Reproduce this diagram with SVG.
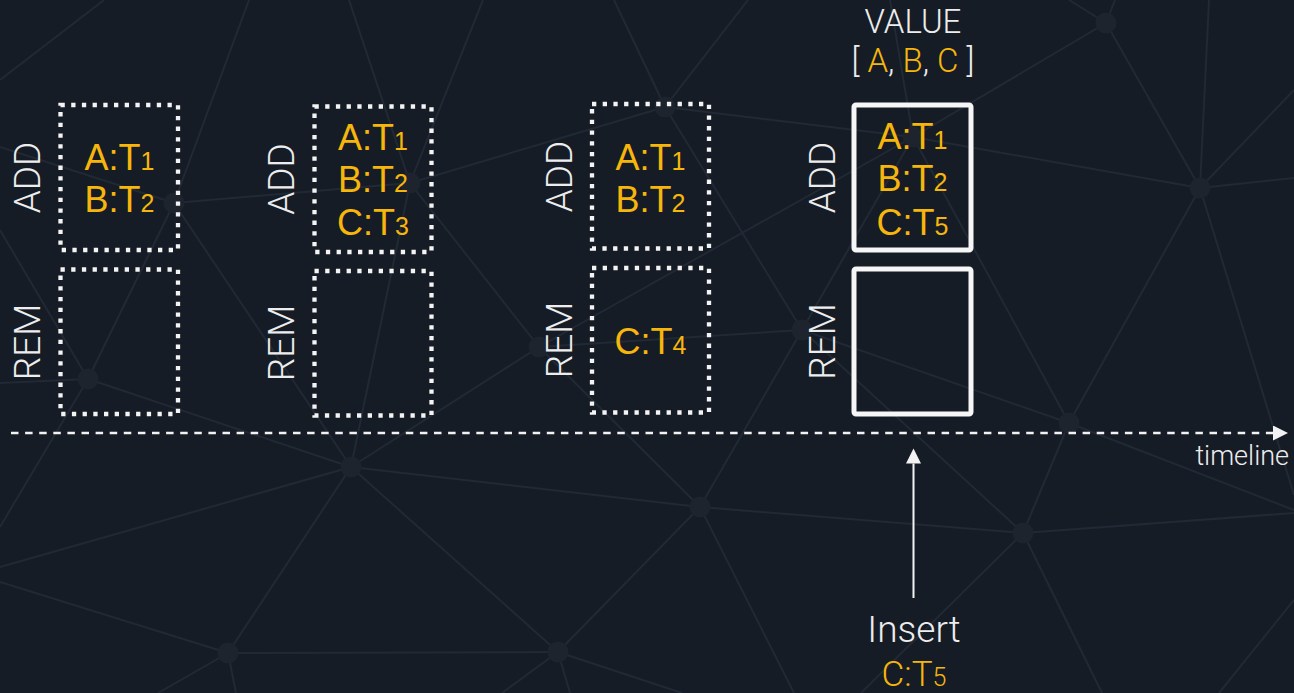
<svg xmlns="http://www.w3.org/2000/svg" width="1294" height="693" viewBox="0 0 1294 693">
  <style>
    .net line { stroke: #212934; stroke-width: 2; }
    .net circle { fill: #1d242e; }
    .dotbox { fill: none; stroke: #f4f4f4; stroke-width: 4.3; stroke-dasharray: 4.3 6.4; }
    .solidbox { fill: none; stroke: #f6f6f6; stroke-width: 5; }
    .entry { font-family: "Liberation Sans", Arial, sans-serif; font-size: 36px; fill: #f6b60b; text-anchor: middle; }
    .entry tspan.sub { font-size: 25px; }
    .side { font-family: Roboto, "Liberation Sans", sans-serif; font-weight: 300; font-size: 37px; fill: #ededed; text-anchor: middle; }
    .caption { font-family: Roboto, "Liberation Sans", sans-serif; font-weight: 300; fill: #ededed; }
    .hl { fill: #f6b60b; }
    .axis { stroke: #f2f2f2; stroke-width: 2.6; stroke-dasharray: 7.5 6.6; fill: none; }
    .pointer { stroke: #f2f2f2; stroke-width: 2; fill: none; }
  </style>
  <defs>
    <marker id="tri" markerWidth="16" markerHeight="16" refX="0" refY="7.5" orient="auto" markerUnits="userSpaceOnUse">
      <path d="M0,0 L15,7.5 L0,15 z" fill="#f2f2f2"/>
    </marker>
  </defs>

  <!-- backdrop -->
  <rect x="0" y="0" width="1294" height="693" fill="#161c26"/>

  <!-- faint network pattern -->
  <g class="net">
    <line x1="0" y1="80" x2="104" y2="0"/>
    <line x1="88" y1="379" x2="174" y2="203"/>
    <line x1="88" y1="379" x2="351" y2="467"/>
    <line x1="88" y1="379" x2="0" y2="230"/>
    <line x1="88" y1="379" x2="0" y2="383"/>
    <line x1="88" y1="379" x2="0" y2="527"/>
    <line x1="174" y1="203" x2="410" y2="183"/>
    <line x1="174" y1="203" x2="351" y2="467"/>
    <line x1="174" y1="203" x2="0" y2="147"/>
    <line x1="174" y1="203" x2="249" y2="0"/>
    <line x1="410" y1="183" x2="665" y2="107"/>
    <line x1="410" y1="183" x2="539" y2="347"/>
    <line x1="410" y1="183" x2="351" y2="467"/>
    <line x1="410" y1="183" x2="349" y2="0"/>
    <line x1="410" y1="183" x2="483" y2="0"/>
    <line x1="665" y1="107" x2="614" y2="0"/>
    <line x1="665" y1="107" x2="748" y2="0"/>
    <line x1="665" y1="107" x2="913" y2="137"/>
    <line x1="665" y1="107" x2="802" y2="330"/>
    <line x1="539" y1="347" x2="351" y2="467"/>
    <line x1="539" y1="347" x2="700" y2="507"/>
    <line x1="539" y1="347" x2="802" y2="330"/>
    <line x1="539" y1="347" x2="913" y2="137"/>
    <line x1="351" y1="467" x2="700" y2="507"/>
    <line x1="351" y1="467" x2="228" y2="653"/>
    <line x1="351" y1="467" x2="558" y2="652"/>
    <line x1="351" y1="467" x2="0" y2="567"/>
    <line x1="228" y1="653" x2="558" y2="652"/>
    <line x1="228" y1="653" x2="0" y2="582"/>
    <line x1="228" y1="653" x2="158" y2="693"/>
    <line x1="228" y1="653" x2="236" y2="693"/>
    <line x1="558" y1="652" x2="700" y2="507"/>
    <line x1="558" y1="652" x2="502" y2="693"/>
    <line x1="558" y1="652" x2="570" y2="693"/>
    <line x1="558" y1="652" x2="682" y2="693"/>
    <line x1="700" y1="507" x2="1023" y2="533"/>
    <line x1="700" y1="507" x2="802" y2="330"/>
    <line x1="700" y1="507" x2="794" y2="693"/>
    <line x1="1023" y1="533" x2="1069" y2="423"/>
    <line x1="1023" y1="533" x2="802" y2="330"/>
    <line x1="1023" y1="533" x2="1294" y2="513"/>
    <line x1="1023" y1="533" x2="861" y2="693"/>
    <line x1="1023" y1="533" x2="1102" y2="693"/>
    <line x1="1069" y1="423" x2="1200" y2="188"/>
    <line x1="1069" y1="423" x2="802" y2="330"/>
    <line x1="1069" y1="423" x2="913" y2="137"/>
    <line x1="1069" y1="423" x2="1294" y2="510"/>
    <line x1="1106" y1="23" x2="1069" y2="0"/>
    <line x1="1106" y1="23" x2="1115" y2="0"/>
    <line x1="1106" y1="23" x2="913" y2="137"/>
    <line x1="1106" y1="23" x2="1200" y2="188"/>
    <line x1="1200" y1="188" x2="1209" y2="0"/>
    <line x1="1200" y1="188" x2="1294" y2="90"/>
    <line x1="1200" y1="188" x2="1294" y2="178"/>
    <line x1="1200" y1="188" x2="1294" y2="495"/>
    <line x1="913" y1="137" x2="890" y2="0"/>
    <line x1="913" y1="137" x2="1200" y2="188"/>
    <line x1="913" y1="137" x2="802" y2="330"/>
    <line x1="1294" y1="600" x2="1219" y2="693"/>
    <circle cx="665" cy="107" r="10.5"/>
    <circle cx="88" cy="379" r="10.5"/>
    <circle cx="174" cy="203" r="10.5"/>
    <circle cx="410" cy="183" r="10.5"/>
    <circle cx="539" cy="347" r="10.5"/>
    <circle cx="351" cy="467" r="10.5"/>
    <circle cx="700" cy="507" r="10.5"/>
    <circle cx="228" cy="653" r="10.5"/>
    <circle cx="558" cy="652" r="10.5"/>
    <circle cx="1069" cy="423" r="10.5"/>
    <circle cx="1023" cy="533" r="10.5"/>
    <circle cx="1106" cy="23" r="10.5"/>
    <circle cx="1200" cy="188" r="10.5"/>
    <circle cx="913" cy="137" r="10.5"/>
    <circle cx="802" cy="330" r="10.5"/>
  </g>

  <!-- connectors: timeline and insert pointer -->
  <g id="connectors">
    <line class="axis" x1="11" y1="433" x2="1273" y2="433" marker-end="url(#tri)"/>
    <text class="caption" x="1289" y="465" font-size="27" text-anchor="end">timeline</text>
    <line class="pointer" x1="913.5" y1="598" x2="913.5" y2="463.5" marker-end="url(#tri)"/>
  </g>

  <!-- state 1 -->
  <g id="state1-add">
    <rect class="dotbox" x="60.5" y="105" width="117.5" height="145"/>
    <text class="side" transform="translate(40,177.5) rotate(-90)">ADD</text>
    <text class="entry" x="119.5" y="170">A:T<tspan class="sub">1</tspan></text>
    <text class="entry" x="119.5" y="212">B:T<tspan class="sub">2</tspan></text>
  </g>
  <g id="state1-rem">
    <rect class="dotbox" x="60.5" y="269.5" width="117.5" height="144.5"/>
    <text class="side" transform="translate(40,342) rotate(-90)">REM</text>
  </g>

  <!-- state 2 -->
  <g id="state2-add">
    <rect class="dotbox" x="314.5" y="106.5" width="117" height="145.5"/>
    <text class="side" transform="translate(294,179) rotate(-90)">ADD</text>
    <text class="entry" x="373" y="149.5">A:T<tspan class="sub">1</tspan></text>
    <text class="entry" x="373" y="192">B:T<tspan class="sub">2</tspan></text>
    <text class="entry" x="373" y="235">C:T<tspan class="sub">3</tspan></text>
  </g>
  <g id="state2-rem">
    <rect class="dotbox" x="314.5" y="271" width="117" height="144.5"/>
    <text class="side" transform="translate(294,343) rotate(-90)">REM</text>
  </g>

  <!-- state 3 -->
  <g id="state3-add">
    <rect class="dotbox" x="592" y="104" width="117" height="144.5"/>
    <text class="side" transform="translate(572,176.5) rotate(-90)">ADD</text>
    <text class="entry" x="650.5" y="170">A:T<tspan class="sub">1</tspan></text>
    <text class="entry" x="650.5" y="212">B:T<tspan class="sub">2</tspan></text>
  </g>
  <g id="state3-rem">
    <rect class="dotbox" x="592" y="268" width="117" height="144.5"/>
    <text class="side" transform="translate(572,340) rotate(-90)">REM</text>
    <text class="entry" x="650.5" y="354">C:T<tspan class="sub">4</tspan></text>
  </g>

  <!-- state 4 with resolved value -->
  <g id="state4-value">
    <text class="caption" x="913" y="33" font-size="33" text-anchor="middle">VALUE</text>
    <text class="caption" x="913" y="72" font-size="33" text-anchor="middle">[ <tspan class="hl">A</tspan>, <tspan class="hl">B</tspan>, <tspan class="hl">C</tspan> ]</text>
  </g>
  <g id="state4-add">
    <rect class="solidbox" x="854" y="105" width="117" height="145" rx="2"/>
    <text class="side" transform="translate(835,177.5) rotate(-90)">ADD</text>
    <text class="entry" x="912.5" y="148.5">A:T<tspan class="sub">1</tspan></text>
    <text class="entry" x="912.5" y="191">B:T<tspan class="sub">2</tspan></text>
    <text class="entry" x="912.5" y="235">C:T<tspan class="sub">5</tspan></text>
  </g>
  <g id="state4-rem">
    <rect class="solidbox" x="854" y="269" width="117" height="145" rx="2"/>
    <text class="side" transform="translate(835,341.5) rotate(-90)">REM</text>
  </g>

  <!-- insert operation -->
  <g id="insert-op">
    <text class="caption" x="914" y="642" font-size="37" text-anchor="middle">Insert</text>
    <text class="caption hl" x="914" y="686" font-size="35" text-anchor="middle">C:T<tspan font-size="25">5</tspan></text>
  </g>
</svg>
